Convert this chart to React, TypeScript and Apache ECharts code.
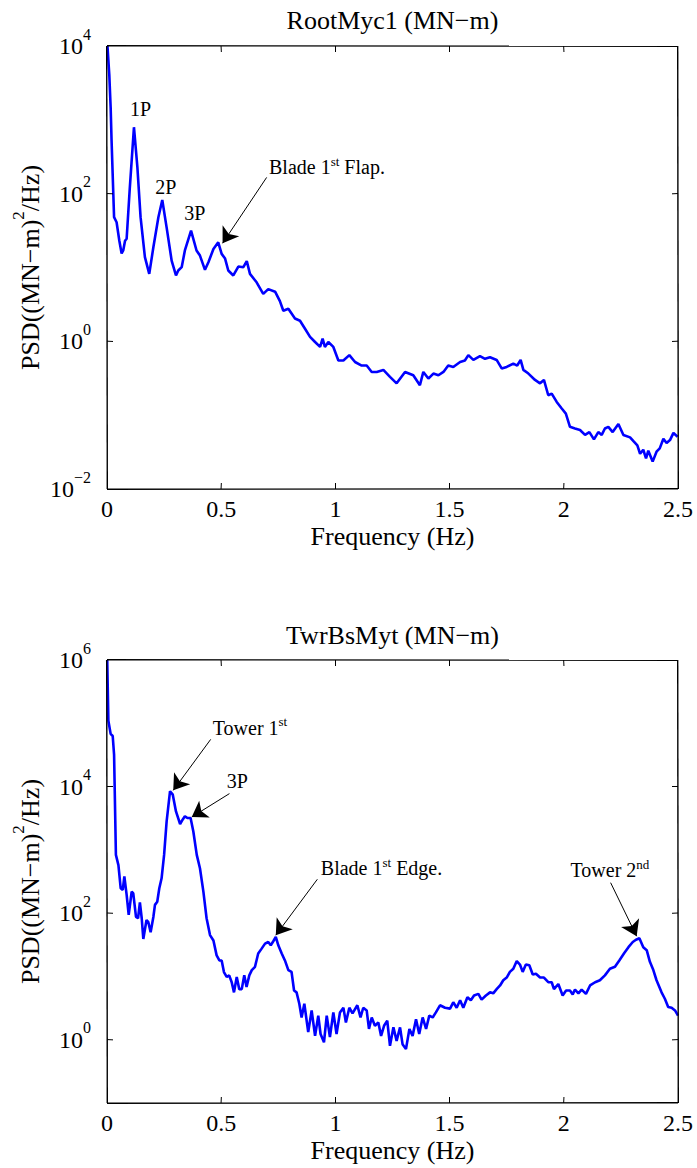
import React, { useEffect, useRef } from 'react';
import * as echarts from 'echarts';

const FONT = 'Liberation Serif';

// ---- data: top panel (RootMyc1) ----
const rootFreq = [0.002, 0.01, 0.016, 0.02, 0.031, 0.042, 0.054, 0.064, 0.071, 0.079, 0.086, 0.1, 0.118, 0.133, 0.147, 0.166, 0.185, 0.203, 0.225, 0.242, 0.261, 0.283, 0.302, 0.312, 0.327, 0.341, 0.368, 0.392, 0.407, 0.429, 0.444, 0.466, 0.487, 0.502, 0.517, 0.531, 0.553, 0.575, 0.597, 0.612, 0.626, 0.655, 0.684, 0.706, 0.736, 0.757, 0.772, 0.794, 0.823, 0.845, 0.867, 0.889, 0.911, 0.933, 0.944, 0.954, 0.969, 0.991, 1.013, 1.035, 1.061, 1.086, 1.115, 1.137, 1.159, 1.181, 1.21, 1.239, 1.268, 1.305, 1.341, 1.37, 1.385, 1.407, 1.429, 1.451, 1.473, 1.494, 1.516, 1.546, 1.567, 1.582, 1.604, 1.633, 1.655, 1.677, 1.706, 1.728, 1.75, 1.779, 1.796, 1.811, 1.823, 1.845, 1.874, 1.896, 1.913, 1.932, 1.947, 1.969, 1.991, 2.009, 2.027, 2.049, 2.071, 2.093, 2.112, 2.132, 2.151, 2.166, 2.18, 2.195, 2.214, 2.239, 2.261, 2.29, 2.307, 2.322, 2.334, 2.348, 2.36, 2.37, 2.389, 2.406, 2.42, 2.436, 2.45, 2.465, 2.48, 2.498];
const rootPsd = [10000, 4100, 1470, 525, 48, 41, 23, 15.5, 17, 23, 24.5, 122, 794, 229, 48, 13.8, 8.2, 18.8, 48, 82, 35, 12.4, 7.8, 9.1, 10.1, 17, 31.6, 17, 14.5, 9.3, 11.8, 17.8, 21.9, 15.3, 13.2, 9.1, 7.8, 10.3, 10.1, 12.2, 8.2, 6.3, 4.4, 5.1, 4.7, 3.5, 2.6, 2.76, 2.04, 1.9, 1.48, 1.15, 0.98, 0.84, 1.09, 0.84, 0.98, 0.84, 0.55, 0.55, 0.65, 0.525, 0.47, 0.47, 0.385, 0.385, 0.41, 0.33, 0.27, 0.385, 0.347, 0.254, 0.385, 0.313, 0.366, 0.347, 0.385, 0.47, 0.45, 0.525, 0.55, 0.65, 0.56, 0.63, 0.58, 0.61, 0.56, 0.43, 0.45, 0.5, 0.47, 0.56, 0.41, 0.366, 0.3, 0.27, 0.3, 0.186, 0.196, 0.151, 0.123, 0.105, 0.0695, 0.066, 0.063, 0.054, 0.059, 0.047, 0.059, 0.054, 0.066, 0.0695, 0.059, 0.076, 0.054, 0.05, 0.0437, 0.039, 0.03, 0.034, 0.026, 0.033, 0.0235, 0.032, 0.0355, 0.048, 0.042, 0.046, 0.0575, 0.051];

// ---- data: bottom panel (TwrBsMyt) ----
const twrFreq = [0.001, 0.006, 0.016, 0.025, 0.031, 0.039, 0.05, 0.06, 0.069, 0.076, 0.086, 0.095, 0.108, 0.115, 0.127, 0.136, 0.144, 0.152, 0.159, 0.173, 0.181, 0.191, 0.203, 0.21, 0.22, 0.229, 0.239, 0.25, 0.261, 0.276, 0.288, 0.302, 0.32, 0.331, 0.341, 0.352, 0.366, 0.378, 0.393, 0.407, 0.422, 0.436, 0.451, 0.466, 0.48, 0.492, 0.502, 0.512, 0.524, 0.535, 0.546, 0.556, 0.568, 0.579, 0.59, 0.601, 0.611, 0.623, 0.634, 0.648, 0.662, 0.677, 0.692, 0.706, 0.717, 0.728, 0.739, 0.75, 0.765, 0.779, 0.794, 0.808, 0.819, 0.83, 0.842, 0.852, 0.864, 0.881, 0.896, 0.911, 0.925, 0.935, 0.95, 0.962, 0.976, 0.991, 1.005, 1.02, 1.035, 1.046, 1.061, 1.075, 1.096, 1.11, 1.122, 1.137, 1.147, 1.159, 1.173, 1.188, 1.2, 1.213, 1.227, 1.239, 1.254, 1.268, 1.283, 1.294, 1.309, 1.324, 1.338, 1.353, 1.367, 1.382, 1.397, 1.411, 1.426, 1.44, 1.458, 1.48, 1.502, 1.516, 1.531, 1.546, 1.56, 1.578, 1.593, 1.607, 1.626, 1.64, 1.659, 1.677, 1.691, 1.706, 1.721, 1.735, 1.75, 1.764, 1.779, 1.794, 1.808, 1.82, 1.834, 1.849, 1.864, 1.878, 1.896, 1.913, 1.932, 1.947, 1.957, 1.976, 1.995, 2.01, 2.027, 2.039, 2.049, 2.064, 2.078, 2.097, 2.115, 2.137, 2.158, 2.18, 2.202, 2.224, 2.243, 2.264, 2.283, 2.302, 2.316, 2.331, 2.348, 2.363, 2.377, 2.392, 2.406, 2.428, 2.443, 2.457, 2.472, 2.487, 2.5];
const twrPsd = [1000000, 110000, 68000, 63000, 32000, 832, 575, 247, 233, 380, 195, 94, 219, 205, 87, 83, 148, 83, 39, 78, 72, 50, 87, 135, 151, 247, 355, 832, 2800, 8450, 7450, 4050, 2560, 3000, 3400, 3180, 3180, 1950, 832, 513, 219, 83, 45, 37, 21.5, 17.9, 17.9, 11.7, 9.8, 10.4, 8.1, 5.6, 9.8, 6.3, 6.3, 10.4, 6.8, 10.4, 12.6, 14.2, 23, 27.5, 33, 35, 31, 36, 42, 31, 23, 17.9, 12.6, 11.8, 6, 5.6, 3.7, 2.25, 3.7, 1.32, 2.9, 1.15, 2.4, 1.23, 0.91, 2.4, 1.1, 2.7, 1.23, 2.7, 3.2, 1.87, 3.2, 2.6, 3.5, 2.25, 3.2, 2.9, 1.48, 2.25, 1.66, 1.87, 1.15, 1.66, 2.0, 0.8, 1.57, 0.96, 1.57, 0.85, 0.71, 1.48, 1.15, 2.1, 1.23, 2.25, 1.48, 2.4, 2.25, 2.7, 3.5, 3.2, 3.1, 3.9, 3.2, 4.2, 3.2, 4.7, 4.2, 5.0, 5.3, 4.3, 5.0, 5.6, 5.4, 6.3, 7.2, 8.7, 9.6, 11.8, 13.2, 17.5, 15.4, 11.8, 15.4, 15, 10.7, 11, 9.6, 9.6, 8.1, 8.1, 6.3, 7.6, 5, 6, 6, 5.2, 6.2, 5.4, 6.2, 5.3, 7.2, 8.1, 8.7, 10.4, 13.2, 14.2, 17.9, 23.2, 29, 35, 38, 40, 29, 26, 17, 12.6, 8.7, 5.6, 4.4, 3.3, 3.2, 2.9, 2.4];

// ---- axes ----
const freqMin = 0;
const freqMax = 2.5;
const freqStep = 0.5;
const freqTicks = [0, 0.5, 1, 1.5, 2, 2.5];
const rootYTicks = [0.01, 1, 100, 10000];
const twrYTicks = [1, 100, 10000, 1000000];
const rootYMin = 0.01;
const rootYMax = 10000;
const twrYMin = 0.1;
const twrYMax = 1000000;

// ---- titles ----
const titles = ['RootMyc1 (MN\u2212m)', 'TwrBsMyt (MN\u2212m)'];
const xName = 'Frequency (Hz)';
const yName = '{a|PSD((MN\u2212m)}{s|2}{a|/Hz)}';

// ---- annotations ----
const rootNotes = [
  { text: '{t|1P}', at: [0.147, 1422] },
  { text: '{t|2P}', at: [0.257, 124] },
  { text: '{t|3P}', at: [0.385, 54.2] },
  { text: '{t|Blade 1}{s|st}{t| Flap.}', at: [0.963, 228] },
];
const rootArrows = [{ from: [0.699, 166], to: [0.506, 21.3] }];
const twrNotes = [
  { text: '{t|Tower 1}{s|st}', at: [0.626, 85000] },
  { text: '{t|3P}', at: [0.571, 12450] },
  { text: '{t|Blade 1}{s|st}{t| Edge.}', at: [1.202, 508] },
  { text: '{t|Tower 2}{s|nd}', at: [2.202, 473] },
];
const twrArrows = [
  { from: [0.454, 55700], to: [0.29, 8710] },
  { from: [0.536, 7740], to: [0.371, 3300] },
  { from: [0.921, 343], to: [0.739, 44.8] },
  { from: [2.205, 303], to: [2.319, 43.2] },
];

const GRID_LEFT = 107;
const GRID_W = 571;
const GRID_H = 443;
const GRID_TOPS = [46, 660];
const TICK = 6;
const EDGE_SKEW = 0.6;
const TICK_SKEW = 0.3;

const noteRich = {
  t: { fontFamily: FONT, fontSize: 20, color: '#000', lineHeight: 22 },
  s: { fontFamily: FONT, fontSize: 13, color: '#000', lineHeight: 13, padding: [0, 0, 12, 0] },
};

const expLabel = (v: number) => {
  const e = Math.round(Math.log10(v));
  const es = e < 0 ? '\u2212' + Math.abs(e) : String(e);
  return `{b|10}{e|${es}}`;
};

function xAxes(gridIndex: number) {
  const common = {
    type: 'value',
    gridIndex,
    min: freqMin,
    max: freqMax,
    interval: freqStep,
    axisLine: { show: false, onZero: false },
    axisTick: { show: false },
    splitLine: { show: false },
  };
  return [
    {
      ...common,
      position: 'bottom',
      axisLabel: { show: true, color: '#000', fontFamily: FONT, fontSize: 24, margin: 8 },
      name: xName,
      nameLocation: 'middle',
      nameGap: 34,
      nameMoveOverlap: false,
      nameTextStyle: { color: '#000', fontFamily: FONT, fontSize: 26 },
    },
    { ...common, position: 'top', axisLabel: { show: false } },
  ];
}

function yAxes(gridIndex: number, min: number, max: number, ticks: number[]) {
  const common = {
    type: 'log',
    logBase: 10,
    gridIndex,
    min,
    max,
    axisLine: { show: false, onZero: false },
    axisTick: { show: false },
    minorTick: { show: false },
    splitLine: { show: false },
    minorSplitLine: { show: false },
  };
  return [
    {
      ...common,
      position: 'left',
      axisLabel: {
        show: true,
        customValues: ticks,
        margin: 16,
        formatter: expLabel,
        rich: {
          b: { fontFamily: FONT, fontSize: 24, color: '#000', lineHeight: 26 },
          e: { fontFamily: FONT, fontSize: 16, color: '#000', lineHeight: 16, padding: [0, 0, 24, 0] },
        },
      },
      name: yName,
      nameLocation: 'middle',
      nameGap: 62,
      nameMoveOverlap: false,
      nameTextStyle: {
        color: '#000',
        rich: {
          a: { fontFamily: FONT, fontSize: 26, color: '#000', lineHeight: 30 },
          s: { fontFamily: FONT, fontSize: 17, color: '#000', lineHeight: 17, padding: [0, 0, 24, 0] },
        },
      },
    },
    { ...common, position: 'right', axisLabel: { show: false } },
  ];
}

function lineSeries(idx: number, freq: number[], psd: number[], notes: any[], arrows: any[]) {
  return {
    type: 'line',
    xAxisIndex: idx * 2,
    yAxisIndex: idx * 2,
    data: freq.map((f, i) => [f, psd[i]]),
    showSymbol: false,
    symbol: 'none',
    lineStyle: { color: '#0000ff', width: 2.6 },
    itemStyle: { color: '#0000ff' },
    clip: true,
    silent: true,
    z: 3,
    markPoint: {
      silent: true,
      symbol: 'circle',
      symbolSize: 1,
      itemStyle: { color: 'rgba(0,0,0,0)' },
      data: notes.map((n) => ({
        coord: n.at,
        label: { show: true, position: 'inside', formatter: n.text, rich: noteRich },
      })),
    },
    markLine: {
      silent: true,
      symbol: ['none', 'arrow'],
      symbolSize: 15,
      label: { show: false },
      lineStyle: { color: '#000', width: 1, type: 'solid' },
      itemStyle: { color: '#000' },
      data: arrows.map((a) => [{ coord: a.from }, { coord: a.to }]),
    },
  };
}

// axes box with inward ticks on all four sides, drawn as marker lines (pixel positions)
function frameSeries(g: number, ymin: number, ymax: number, yt: number[]) {
  const L = GRID_LEFT;
  const R = GRID_LEFT + GRID_W;
  const T = GRID_TOPS[g];
  const B = T + GRID_H;
  const segs: any[] = [];
  const add = (x1: number, y1: number, x2: number, y2: number, w: number) =>
    segs.push([
      { x: x1, y: y1, lineStyle: { width: w, color: '#000', type: 'solid' } },
      { x: x2, y: y2 },
    ]);
  const e = EDGE_SKEW / 2;
  add(L, T - e, R, T + e, 1.4);
  add(R - e, T, R + e, B, 1.4);
  add(R, B - e, L, B + e, 1.4);
  add(L + e, B, L - e, T, 1.4);
  const k = TICK_SKEW / 2;
  freqTicks.forEach((fv) => {
    if (fv <= freqMin || fv >= freqMax) return;
    const px = L + ((fv - freqMin) / (freqMax - freqMin)) * GRID_W;
    add(px - k, B, px + k, B - TICK, 1);
    add(px - k, T, px + k, T + TICK, 1);
  });
  const lmin = Math.log10(ymin);
  const lmax = Math.log10(ymax);
  yt.forEach((yv) => {
    const py = B - ((Math.log10(yv) - lmin) / (lmax - lmin)) * GRID_H;
    if (py <= T + 1 || py >= B - 1) return;
    add(L, py - k, L + TICK, py + k, 1);
    add(R, py - k, R - TICK, py + k, 1);
  });
  return {
    type: 'line',
    xAxisIndex: g * 2,
    yAxisIndex: g * 2,
    data: [[freqMin, ymin]],
    showSymbol: false,
    symbol: 'none',
    lineStyle: { opacity: 0 },
    clip: false,
    silent: true,
    z: 4,
    markLine: {
      silent: true,
      symbol: ['none', 'none'],
      label: { show: false },
      lineStyle: { color: '#000', width: 1, type: 'solid' },
      data: segs,
    },
  };
}

function titleGraphics() {
  return titles.map((t, i) => ({
    type: 'text',
    x: GRID_LEFT + GRID_W / 2,
    y: i === 0 ? 20 : 635,
    style: {
      text: t,
      fontFamily: FONT,
      fontSize: 26,
      fill: '#000',
      textAlign: 'center',
      align: 'center',
      textVerticalAlign: 'middle',
      verticalAlign: 'middle',
    },
  }));
}

export default function App() {
  const ref = useRef<HTMLDivElement>(null);
  useEffect(() => {
    if (!ref.current) return;
    const chart = echarts.init(ref.current, undefined, { renderer: 'svg' });
    const option: any = {
      animation: false,
      grid: GRID_TOPS.map((top) => ({
        left: GRID_LEFT,
        top,
        width: GRID_W,
        height: GRID_H,
        containLabel: false,
        outerBoundsMode: 'none',
        show: false,
      })),
      xAxis: [...xAxes(0), ...xAxes(1)],
      yAxis: [
        ...yAxes(0, rootYMin, rootYMax, rootYTicks),
        ...yAxes(1, twrYMin, twrYMax, twrYTicks),
      ],
      graphic: titleGraphics(),
      series: [
        lineSeries(0, rootFreq, rootPsd, rootNotes, rootArrows),
        lineSeries(1, twrFreq, twrPsd, twrNotes, twrArrows),
        frameSeries(0, rootYMin, rootYMax, rootYTicks),
        frameSeries(1, twrYMin, twrYMax, twrYTicks),
      ],
    };
    chart.setOption(option);
    return () => chart.dispose();
  }, []);
  return (
    <div
      ref={ref}
      style={{ position: 'absolute', left: 0, top: 0, width: 697, height: 1168, background: '#fff' }}
    />
  );
}
